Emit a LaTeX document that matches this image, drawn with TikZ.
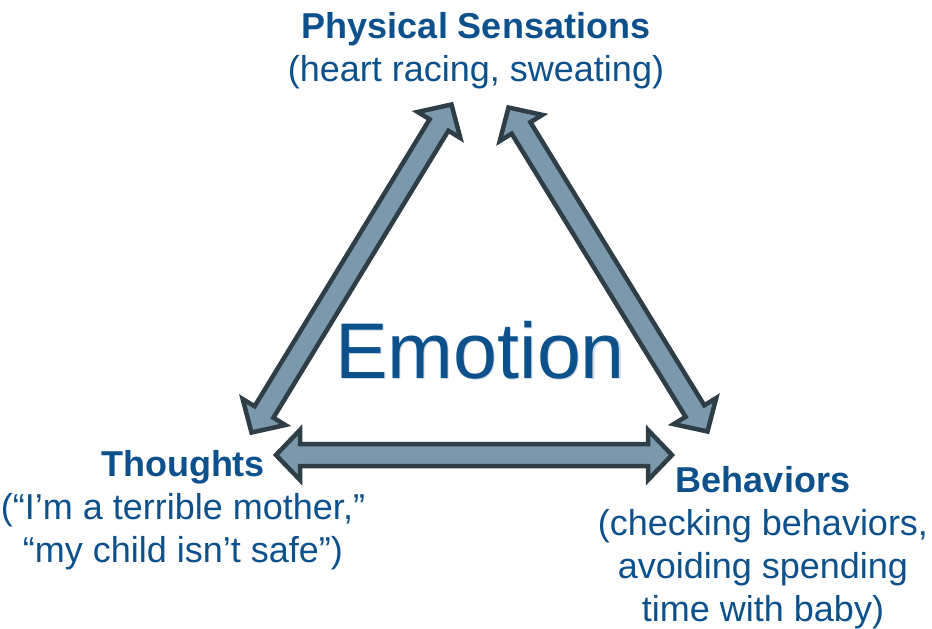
\documentclass[tikz,border=0pt]{standalone}
\usepackage{fontspec}
\setmainfont{Liberation Sans}
\usetikzlibrary{calc}

\definecolor{labelblue}{RGB}{12,80,140}
\definecolor{haloblue}{RGB}{205,218,232}
\definecolor{arrowfill}{RGB}{122,153,172}
\definecolor{arrowline}{RGB}{47,62,70}

% geometry of the block double arrows
\newcommand{\arrowheadlen}{24pt}
\newcommand{\arrowheadhalf}{25pt}
\newcommand{\arrowshafthalf}{11pt}

% block arrow with heads at both named ends
\newcommand{\twowayarrow}[2]{%
  \coordinate (ha) at ($(#1)!\arrowheadlen!(#2)$);
  \coordinate (hb) at ($(#2)!\arrowheadlen!(#1)$);
  \draw[arrowbody] (#1)
    -- ($(ha)!\arrowheadhalf!90:(#1)$) -- ($(ha)!\arrowshafthalf!90:(#1)$)
    -- ($(hb)!\arrowshafthalf!-90:(#2)$) -- ($(hb)!\arrowheadhalf!-90:(#2)$)
    -- (#2)
    -- ($(hb)!\arrowheadhalf!90:(#2)$) -- ($(hb)!\arrowshafthalf!90:(#2)$)
    -- ($(ha)!\arrowshafthalf!-90:(#1)$) -- ($(ha)!\arrowheadhalf!-90:(#1)$)
    -- cycle;}

\begin{document}
\begin{tikzpicture}[x=1pt,y=-1pt,
  arrowbody/.style={fill=arrowfill,draw=arrowline,line width=4.5pt,line join=miter},
  label/.style={text=labelblue,align=center,inner sep=0pt,anchor=north,
    font=\fontsize{36}{43}\selectfont},
  centre/.style={inner sep=0pt,anchor=base,font=\fontsize{79}{90}\selectfont}]
\useasboundingbox (0,0) rectangle (932,629);

% labels at the three corners
\node[label] (phys) at (476,12) {\textbf{Physical Sensations}\\(heart racing, sweating)};
\node[label] (thoughts) at (183,450) {\textbf{Thoughts}\\(“I’m a terrible mother,”\\“my child isn’t safe”)};
\node[label] (behav) at (763,466) {\textbf{Behaviors}\\(checking behaviors,\\avoiding spending\\time with baby)};

% central word with its soft shadow
\node[centre,text=haloblue] (emoshadow) at (481.2,379.5) {Emotion};
\node[centre,text=labelblue] (emotion) at (480,378) {Emotion};

% arrow tips
\coordinate (lt) at (451.5,104.5);
\coordinate (lb) at (251.5,432.5);
\coordinate (rt) at (508.5,107.5);
\coordinate (rb) at (707.5,431.5);
\coordinate (bl) at (276,455);
\coordinate (br) at (672,455);

\twowayarrow{lb}{lt}
\twowayarrow{rt}{rb}
\twowayarrow{bl}{br}
\end{tikzpicture}
\end{document}
